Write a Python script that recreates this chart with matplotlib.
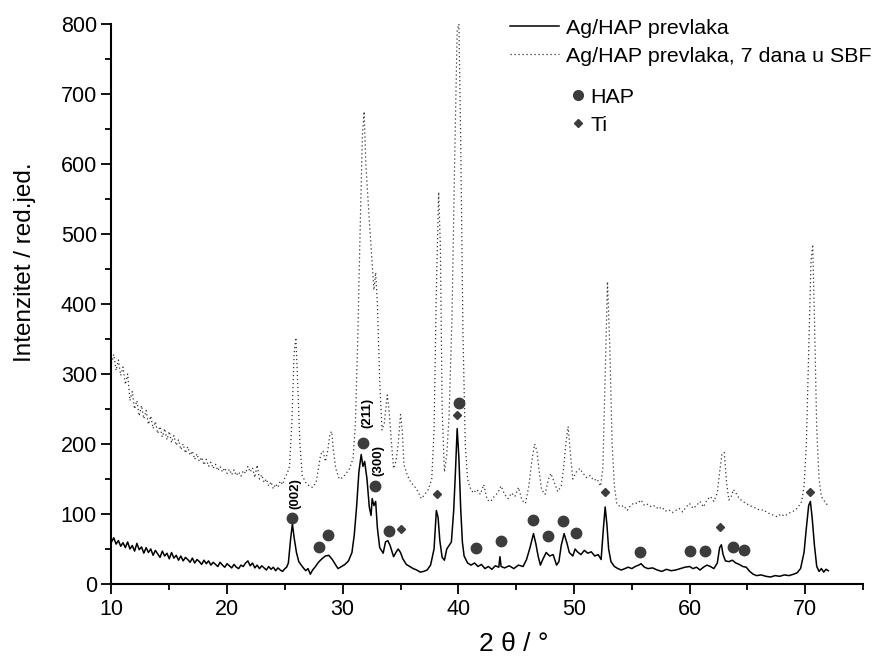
import matplotlib
matplotlib.use('Agg')
from matplotlib import pyplot as plt
from matplotlib.lines import Line2D
from matplotlib.ticker import MultipleLocator

plt.rcParams['font.family'] = ['Liberation Sans', 'DejaVu Sans']

# Ag/HAP prevlaka (puna linija)
two_theta_a = [10.0, 10.2, 10.4, 10.6, 10.8, 11.0, 11.2, 11.4, 11.6, 11.8, 12.0, 12.2, 12.4, 12.6, 12.8,
               13.0, 13.2, 13.4, 13.6, 13.8, 14.0, 14.2, 14.4, 14.6, 14.8, 15.0, 15.2, 15.4, 15.6, 15.8,
               16.0, 16.2, 16.4, 16.6, 16.8, 17.0, 17.2, 17.4, 17.6, 17.8, 18.0, 18.2, 18.4, 18.6, 18.8,
               19.0, 19.2, 19.4, 19.6, 19.8, 20.0, 20.2, 20.4, 20.6, 20.8, 21.0, 21.2, 21.4, 21.6, 21.8,
               22.0, 22.2, 22.4, 22.6, 22.8, 23.0, 23.2, 23.4, 23.6, 23.8, 24.0, 24.2, 24.4, 24.6, 24.8,
               25.0, 25.15, 25.3, 25.5, 25.65, 25.8, 26.0, 26.2, 26.5,
               26.8, 27.0, 27.2, 27.4, 27.6, 27.9, 28.2, 28.5, 28.8, 29.1, 29.4, 29.6, 29.9, 30.2, 30.5,
               30.8, 31.0, 31.2, 31.4, 31.6, 31.75, 31.9, 32.1, 32.3, 32.45, 32.55, 32.7, 32.85, 33.0, 33.2,
               33.5, 33.7, 33.9, 34.1, 34.4, 34.6, 34.8, 35.0, 35.2, 35.5, 35.8, 36.1, 36.4, 36.7, 37.0,
               37.3, 37.6, 37.9, 38.1, 38.25, 38.4, 38.6, 38.8, 39.0, 39.2, 39.4, 39.6, 39.75, 39.9, 40.05,
               40.2, 40.35, 40.5, 40.8, 41.1, 41.4, 41.7, 42.0, 42.3, 42.6, 42.9, 43.2, 43.5, 43.6, 43.7,
               44.0, 44.4, 44.8, 45.2, 45.6, 45.9, 46.2, 46.5, 46.7, 46.9, 47.1, 47.3, 47.6, 47.9, 48.2,
               48.5, 48.7, 48.9, 49.15, 49.4, 49.6, 49.9, 50.1, 50.3, 50.6, 50.9, 51.2, 51.5, 51.8, 52.1,
               52.35, 52.55, 52.7, 52.85, 53.0, 53.2, 53.5, 53.8, 54.1, 54.4, 54.7, 55.0, 55.3, 55.6, 55.8,
               56.1, 56.4, 56.8, 57.2, 57.6, 58.0, 58.4, 58.8, 59.2, 59.6, 60.0, 60.3, 60.6, 60.9, 61.2,
               61.5, 61.8, 62.1, 62.4, 62.6, 62.75, 62.9, 63.1, 63.4, 63.7, 64.0, 64.3, 64.6, 64.9, 65.2,
               65.5, 65.8, 66.2, 66.6, 67.0, 67.4, 67.8, 68.2, 68.6, 69.0, 69.3, 69.6, 69.9, 70.1, 70.3,
               70.45, 70.6, 70.8, 71.0, 71.2, 71.4, 71.6, 71.8, 72.0]
int_a = [60, 66, 57, 62, 54, 59, 52, 60, 50, 55, 47, 58, 49, 53, 44,
         52, 45, 50, 41, 48, 43, 38, 47, 40, 44, 36, 45, 37, 41, 34,
         40, 33, 38, 35, 31, 37, 30, 35, 32, 28, 34, 29, 33, 27, 31,
         28, 25, 31, 27, 24, 29, 26, 23, 28, 24, 22, 27, 25, 30, 33,
         26, 30, 23, 27, 22, 26, 23, 20, 25, 21, 24, 19, 23, 20, 18,
         22, 24, 30, 65, 86, 66, 45, 32, 25,
         19, 22, 14, 20, 24, 31, 36, 40, 41, 35, 27, 22, 25, 28, 33,
         45, 70, 110, 160, 185, 168, 175, 150, 110, 98, 122, 112, 118, 80, 52,
         44, 60, 62, 55, 39, 45, 50, 45, 36, 28, 25, 22, 20, 17, 18,
         20, 27, 50, 105, 95, 62, 38, 34, 50, 55, 60, 105, 160, 222, 180,
         110, 60, 40, 30, 27, 30, 25, 28, 22, 25, 21, 26, 24, 39, 25,
         23, 26, 22, 27, 25, 35, 52, 72, 58, 40, 27, 35, 45, 40, 42,
         27, 32, 55, 72, 58, 45, 40, 50, 46, 42, 48, 44, 46, 40, 42,
         35, 80, 110, 85, 50, 32, 25, 22, 20, 22, 24, 22, 25, 27, 29,
         24, 22, 23, 20, 18, 21, 19, 20, 22, 24, 25, 22, 24, 20, 24,
         27, 25, 22, 30, 52, 56, 42, 33, 32, 34, 30, 28, 25, 24, 18,
         14, 12, 13, 11, 10, 12, 11, 13, 12, 14, 16, 22, 45, 80, 112,
         118, 95, 55, 25, 18, 22, 17, 21, 19]

# Ag/HAP prevlaka, 7 dana u SBF (tackasta linija)
two_theta_b = [10.0, 10.2, 10.4, 10.6, 10.8, 11.0, 11.2, 11.4, 11.6, 11.8, 12.0, 12.2, 12.4, 12.6, 12.8,
               13.0, 13.2, 13.4, 13.6, 13.8, 14.0, 14.2, 14.4, 14.6, 14.8, 15.0, 15.2, 15.4, 15.6, 15.8,
               16.0, 16.2, 16.4, 16.6, 16.8, 17.0, 17.2, 17.4, 17.6, 17.8, 18.0, 18.2, 18.4, 18.6, 18.8,
               19.0, 19.2, 19.4, 19.6, 19.8, 20.0, 20.2, 20.4, 20.6, 20.8, 21.0, 21.2, 21.4, 21.6, 21.8,
               22.0, 22.2, 22.4, 22.6, 22.8, 23.0, 23.2, 23.4, 23.6, 23.8, 24.0, 24.2, 24.4, 24.6, 24.8,
               25.0, 25.2, 25.4, 25.6, 25.8, 25.95, 26.1,
               26.3, 26.5, 26.8, 27.1, 27.4, 27.7, 27.9, 28.1, 28.3, 28.5, 28.7, 28.9, 29.05, 29.2, 29.4,
               29.7, 30.0, 30.3, 30.6, 30.9, 31.1, 31.3, 31.5, 31.7, 31.85, 32.0, 32.15, 32.3, 32.5, 32.7,
               32.85, 33.0, 33.2, 33.4, 33.6, 33.85, 34.0, 34.2, 34.4, 34.6, 34.8, 35.0, 35.15, 35.3, 35.6,
               35.9, 36.2, 36.5, 36.8, 37.1, 37.4, 37.7, 37.9, 38.1, 38.3, 38.45, 38.6, 38.8, 39.0, 39.2,
               39.45, 39.7, 39.9, 40.05, 40.2, 40.4, 40.6, 40.8, 41.0, 41.3, 41.6, 41.9, 42.2, 42.5, 42.8,
               43.1, 43.4, 43.7, 44.0, 44.3, 44.6, 44.9, 45.2, 45.5, 45.8, 46.1, 46.35, 46.6, 46.8, 47.0,
               47.2, 47.5, 47.8, 48.0, 48.3, 48.6, 48.9, 49.1, 49.3, 49.5, 49.7, 49.9, 50.2, 50.5, 50.8,
               51.1, 51.4, 51.7, 52.0, 52.3, 52.5, 52.7, 52.9, 53.1, 53.3, 53.5, 53.7, 54.0, 54.3, 54.6,
               54.9, 55.2, 55.5, 55.8, 56.1, 56.4, 56.7, 57.0, 57.3, 57.6, 57.9, 58.2, 58.5, 58.8, 59.1,
               59.4, 59.7, 60.0, 60.3, 60.6, 60.9, 61.2, 61.5, 61.8, 62.1, 62.4, 62.6, 62.8, 63.0, 63.2,
               63.4, 63.6, 63.8, 64.0, 64.3, 64.6, 64.9, 65.2, 65.5, 65.8, 66.1, 66.4, 66.7, 67.0, 67.3,
               67.6, 67.9, 68.2, 68.5, 68.8, 69.1, 69.4, 69.7, 69.9, 70.1, 70.3, 70.5, 70.65, 70.8, 71.0,
               71.2, 71.4, 71.6, 71.8, 72.0]
int_b = [315, 328, 305, 320, 298, 310, 285, 300, 262, 275, 250, 262, 240, 255, 236,
         248, 228, 240, 222, 232, 215, 225, 210, 222, 206, 218, 202, 212, 198, 206,
         192, 200, 187, 196, 184, 190, 178, 186, 175, 181, 170, 178, 168, 174, 165,
         171, 162, 168, 160, 166, 158, 164, 156, 163, 155, 160, 154, 162, 158, 168,
         160, 166, 152, 170, 150, 156, 145, 150, 140, 146, 136, 143, 138, 147, 142,
         152, 158, 168, 230, 330, 352, 290,
         200, 155, 145, 140, 138, 145, 165, 185, 190, 175, 190, 215, 218, 190, 165,
         150, 152, 158, 165, 180, 230, 350, 500, 640, 675, 600, 560, 520, 470, 420,
         445, 400, 290, 220, 230, 270, 250, 205, 165, 175, 200, 242, 220, 170, 155,
         145, 140, 132, 122, 128, 135, 150, 220, 420, 560, 480, 250, 160, 185, 240,
         380, 620, 790, 800, 640, 360, 200, 150, 138, 130, 135, 128, 142, 120, 118,
         125, 130, 140, 128, 122, 130, 125, 138, 120, 115, 140, 175, 200, 190, 160,
         135, 128, 150, 158, 145, 132, 140, 165, 200, 225, 185, 150, 160, 165, 158,
         152, 155, 148, 150, 140, 165, 300, 432, 340, 200, 140, 115, 110, 112, 105,
         112, 116, 115, 120, 112, 114, 110, 112, 107, 110, 104, 106, 102, 105, 108,
         103, 110, 115, 108, 112, 118, 110, 120, 125, 118, 130, 160, 185, 188, 145,
         120, 125, 135, 130, 122, 118, 115, 112, 110, 108, 105, 106, 102, 100, 98,
         96, 100, 97, 100, 103, 105, 110, 118, 140, 200, 330, 460, 485, 380, 220,
         150, 125, 120, 115, 112]

# oznake faza
hap_x = [25.64, 27.97, 28.74, 31.77, 32.78, 33.99, 40.04, 41.57, 43.72, 46.46, 47.75, 49.05,
         50.2, 55.68, 60.0, 61.35, 63.75, 64.7]
hap_y = [94, 53, 70, 201, 140, 76, 259, 51, 61, 92, 69, 90, 73, 46, 47, 47, 53, 48]
ti_x = [35.03, 38.17, 39.9, 52.71, 62.65, 70.38]
ti_y = [79, 129, 242, 131, 81, 132]

# Millerovi indeksi
hkl_labels = ['(002)', '(211)', '(300)']
hkl_x = [25.87, 32.1, 33.05]
hkl_y = [129, 244, 177]

fig = plt.figure(figsize=(8.79, 6.59), dpi=100)
ax = fig.add_axes([0.1268, 0.1138, 0.855, 0.8498])

ax.plot(two_theta_a, int_a, color='black', lw=1.1)
ax.plot(two_theta_b, int_b, color='#333333', lw=0.9, ls=(0, (1, 2.2)))
ax.plot(hap_x, hap_y, 'o', color='#3c3c3c', ms=7.5, ls='none')
ax.plot(ti_x, ti_y, 'D', color='#3c3c3c', ms=4.5, ls='none')

for lab, x, y in zip(hkl_labels, hkl_x, hkl_y):
    ax.text(x, y, lab, rotation=90, ha='center', va='center', fontsize=9.5, fontweight='bold')

ax.set_xlim(10, 75)
ax.set_ylim(0, 800)
ax.set_xticks(range(10, 71, 10))
ax.xaxis.set_minor_locator(MultipleLocator(5))
ax.yaxis.set_major_locator(MultipleLocator(100))
ax.yaxis.set_minor_locator(MultipleLocator(50))
ax.tick_params(which='major', length=7, width=1.3, labelsize=15.5, direction='out')
ax.tick_params(which='minor', length=4, width=1.3, direction='out')
for s in ['top', 'right']:
    ax.spines[s].set_visible(False)
for s in ['left', 'bottom']:
    ax.spines[s].set_linewidth(1.5)

ax.set_xlabel('2 θ / °', fontsize=19)
ax.xaxis.set_label_coords(0.535, -0.085)
ax.set_ylabel('Intenzitet / red.jed.', fontsize=17.5)
ax.yaxis.set_label_coords(-0.1, 0.575)

h1 = [Line2D([], [], color='black', lw=1.1),
      Line2D([], [], color='#333333', lw=0.9, ls=(0, (1, 2.2)))]
leg1 = ax.legend(h1, ['Ag/HAP prevlaka', 'Ag/HAP prevlaka, 7 dana u SBF'], loc='upper left',
                 bbox_to_anchor=(0.53, 1.009), frameon=False, fontsize=15.4, handlelength=2.3,
                 handletextpad=0.35, labelspacing=0.42, borderpad=0, borderaxespad=0)
ax.add_artist(leg1)
h2 = [Line2D([], [], color='#3c3c3c', marker='o', ms=7, ls='none'),
      Line2D([], [], color='#3c3c3c', marker='D', ms=4.5, ls='none')]
ax.legend(h2, ['HAP', 'Ti'], loc='upper left', bbox_to_anchor=(0.612, 0.886), frameon=False,
          fontsize=15.4, handlelength=0.6, handletextpad=0.3, labelspacing=0.42, borderpad=0,
          borderaxespad=0)

plt.savefig('out.png', dpi=100)
